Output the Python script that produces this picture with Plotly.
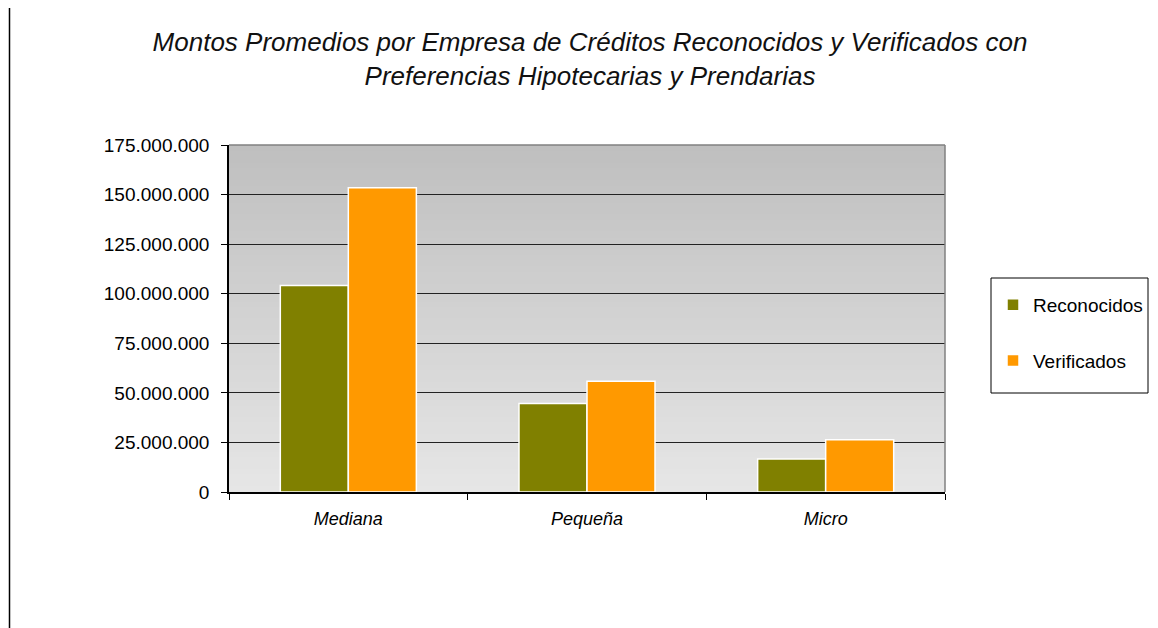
import plotly.graph_objects as go

categories = ["Mediana", "Pequeña", "Micro"]
reconocidos = [104200000, 44600000, 16600000]
verificados = [153500000, 55800000, 26400000]
y_ticks = [0, 25000000, 50000000, 75000000, 100000000, 125000000, 150000000, 175000000]

FONT = "Liberation Sans, Arial, sans-serif"

# page body has an 8px margin; figure sized so plot area lands at x 229-945, y 145-492 (window)
W, H = 1150, 620
L, R, T, B = 221, 213, 137, 136
PW, PH = W - L - R, H - T - B


def px_x(wx):
    return (wx - 229) / PW


def px_y(wy):
    return (492 - wy) / PH


fig = go.Figure()
fig.add_trace(go.Bar(name="Reconocidos", x=categories, y=reconocidos,
                     marker=dict(color="#808000", line=dict(color="white", width=1.5)),
                     legendgroup="a"))
fig.add_trace(go.Bar(name="Verificados", x=categories, y=verificados,
                     marker=dict(color="#FF9900", line=dict(color="white", width=1.5)),
                     legendgroup="b"))

shapes = []
n = 60
for i in range(n):
    t = i / (n - 1)
    c = int(round(191 + (230 - 191) * t))
    # overlapping bands (each reaches the bottom) to avoid seams
    shapes.append(dict(type="rect", xref="x domain", yref="y domain",
                       x0=0, x1=1, y0=0, y1=1 - i / n,
                       fillcolor=f"rgb({c},{c},{c})", line=dict(width=0), layer="below"))
shapes.append(dict(type="line", xref="x domain", yref="y domain", x0=0, x1=1, y0=1, y1=1,
                   line=dict(color="#808080", width=1.5)))
shapes.append(dict(type="line", xref="x domain", yref="y domain", x0=1, x1=1, y0=0, y1=1,
                   line=dict(color="#808080", width=1.5)))
# left page border line
shapes.append(dict(type="line", xref="paper", yref="paper",
                   x0=px_x(9.5), x1=px_x(9.5), y0=px_y(640), y1=px_y(7),
                   line=dict(color="black", width=1.5)))
# legend frame
shapes.append(dict(type="rect", xref="paper", yref="paper",
                   x0=px_x(991), x1=px_x(1148), y0=px_y(393), y1=px_y(278),
                   line=dict(color="black", width=1), fillcolor="rgba(0,0,0,0)"))

fig.update_layout(
    width=W, height=H,
    margin=dict(l=L, r=R, t=T, b=B, autoexpand=False),
    paper_bgcolor="white", plot_bgcolor="rgba(0,0,0,0)",
    separators=",.",
    barmode="group", bargap=0.43, bargroupgap=0,
    shapes=shapes,
    font=dict(family=FONT, color="black", size=19),
    title=dict(text="Montos Promedios por Empresa de Créditos Reconocidos y Verificados con<br>Preferencias Hipotecarias y Prendarias",
               x=(590 - 8) / W, xanchor="center", y=1 - (51 - 8) / H, yanchor="middle",
               font=dict(family=FONT, size=26, color="#111", style="italic")),
    legend=dict(x=px_x(993), xanchor="left", y=px_y(286), yanchor="top",
                borderwidth=0, bgcolor="rgba(0,0,0,0)",
                font=dict(family=FONT, size=19), traceorder="grouped", tracegroupgap=28,
                itemwidth=30),
    xaxis=dict(showline=True, linecolor="black", linewidth=1.5, ticks="outside",
               tickson="boundaries", ticklen=6, tickcolor="black", ticklabelstandoff=10,
               tickfont=dict(family=FONT, size=18, style="italic"), showgrid=False,
               automargin=False),
    yaxis=dict(range=[0, 175000000], tickvals=y_ticks, tickformat=",d",
               showline=True, linecolor="black", linewidth=1.5, ticks="outside",
               ticklen=6, tickcolor="black", showgrid=True, gridcolor="#222",
               gridwidth=1, zeroline=False, ticklabelstandoff=8, automargin=False,
               tickfont=dict(family=FONT, size=19)),
)

fig.write_html("out.html")
